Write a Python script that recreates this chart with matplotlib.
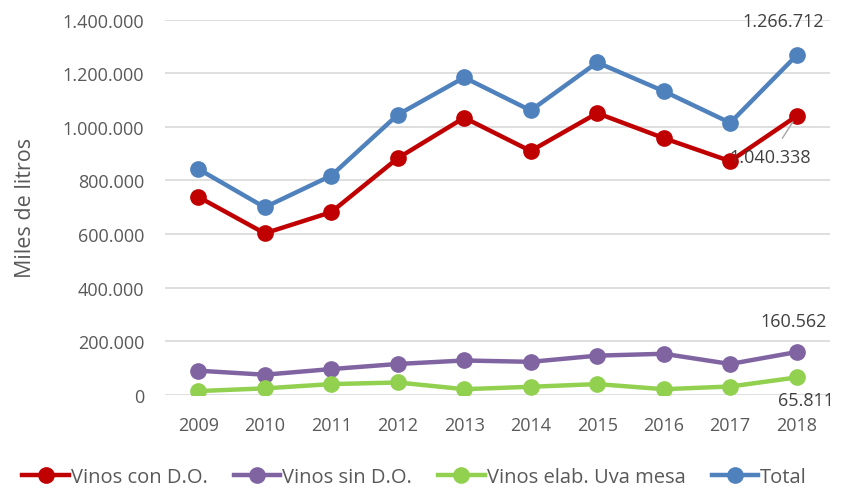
import matplotlib.pyplot as plt
from matplotlib.ticker import FuncFormatter

# datos (miles de litros)
years = ['2009', '2010', '2011', '2012', '2013', '2014', '2015', '2016', '2017', '2018']
con_do = [739000, 603000, 682000, 883000, 1034000, 910000, 1051000, 958000, 872000, 1040338]
sin_do = [91000, 76000, 97000, 116000, 129000, 124000, 147000, 154000, 116000, 160562]
uva_mesa = [15000, 25000, 41000, 47000, 22000, 31000, 41000, 22000, 32000, 65811]
total = [843000, 700000, 818000, 1045000, 1184000, 1061000, 1240000, 1133000, 1015000, 1266712]

names = ['Vinos con D.O.', 'Vinos sin D.O.', 'Vinos elab. Uva mesa', 'Total']
colors = ['#C00000', '#8064A2', '#92D050', '#4F81BD']

plt.rcParams['font.family'] = ['Open Sans', 'DejaVu Sans']
grey = '#595959'

fig = plt.figure(figsize=(8.46, 4.89), dpi=100)
ax = fig.add_axes([0.195, 0.19, 0.786, 0.768])

x = range(len(years))
for serie, nom, col in zip([con_do, sin_do, uva_mesa, total], names, colors):
    ax.plot(x, serie, color=col, lw=3.2, marker='o', ms=11, label=nom)

ax.set_xlim(-0.5, 9.5)
ax.set_ylim(0, 1400000)
ax.set_yticks(range(0, 1400001, 200000))
ax.yaxis.set_major_formatter(FuncFormatter(lambda v, p: '{:,.0f}'.format(v).replace(',', '.')))
ax.set_xticks(list(x))
ax.set_xticklabels(years)
ax.tick_params(length=0, labelsize=13, colors=grey, pad=15)
ax.grid(axis='y', color='#D9D9D9', lw=1.2)
ax.set_axisbelow(True)
for s in ax.spines.values():
    s.set_visible(False)
ax.set_ylabel('Miles de litros', fontsize=15.5, color=grey, labelpad=19)

fmt = lambda v: '{:,.0f}'.format(v).replace(',', '.')
ax.annotate(fmt(total[-1]), (9, total[-1]), xytext=(-10, 24.5), textcoords='offset points',
            ha='center', va='center', fontsize=13, color='#404040')
ax.annotate(fmt(con_do[-1]), (9, con_do[-1]), xytext=(-19, -29.5), textcoords='offset points',
            ha='center', va='center', fontsize=13, color='#404040',
            arrowprops=dict(arrowstyle='-', color='#A6A6A6', lw=1, shrinkA=6, shrinkB=5))
ax.annotate(fmt(sin_do[-1]), (9, sin_do[-1]), xytext=(-2, 22), textcoords='offset points',
            ha='center', va='center', fontsize=13, color='#404040')
ax.annotate(fmt(uva_mesa[-1]), (9, uva_mesa[-1]), xytext=(6.5, -16), textcoords='offset points',
            ha='center', va='center', fontsize=13, color='#404040')

fig.legend(loc='center', bbox_to_anchor=(0.49, 0.022), ncol=4, frameon=False,
           fontsize=14.5, handlelength=2.3, handletextpad=0.1, columnspacing=1.3,
           labelcolor=grey)

fig.savefig('out.png', dpi=100)
